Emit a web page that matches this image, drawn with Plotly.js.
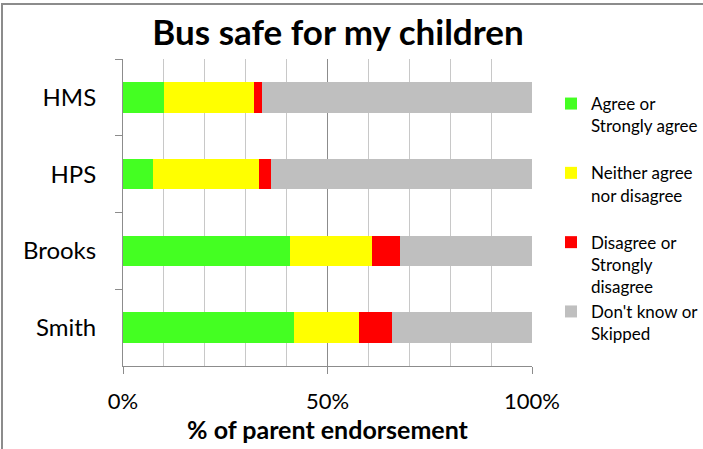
<!DOCTYPE html>
<html>
<head>
<meta charset="utf-8">
<script src="https://cdn.plot.ly/plotly-3.0.1.min.js"></script>
<style>
  html, body { margin: 0; padding: 0; background: #fff; }
  #frame { position: absolute; left: 1px; top: 3px; width: 710px; height: 460px;
           border-top: 2px solid #8c8c8c; border-left: 2px solid #8c8c8c; }
  #chart { position: absolute; left: 0; top: 0; width: 703px; height: 449px; }
</style>
</head>
<body>
<div id="frame"></div>
<div id="chart"></div>
<script>
// Schools (top to bottom in the chart)
const schools = ["HMS", "HPS", "Brooks", "Smith"];
// Share of parents per response (fractions)
const agree    = [0.10, 0.073, 0.408, 0.417];
const neither  = [0.22, 0.260, 0.201, 0.159];
const disagree = [0.02, 0.028, 0.068, 0.082];
const dontKnow = [0.66, 0.639, 0.323, 0.342];
const seriesNames = [
  "Agree or<br>Strongly agree<br> ",
  "Neither agree<br>nor disagree<br> ",
  "Disagree or<br>Strongly<br>disagree",
  "Don't know or<br>Skipped"
];
const seriesColors = ["#44ff22", "#ffff00", "#ff0000", "#bfbfbf"];
const seriesValues = [agree, neither, disagree, dontKnow];

const FONT = "Lato, 'Open Sans', sans-serif";

const traces = seriesValues.map((vals, i) => ({
  type: "bar",
  orientation: "h",
  name: seriesNames[i],
  y: schools,
  x: vals,
  width: 0.4,
  marker: { color: seriesColors[i], line: { width: 0 } },
  hoverinfo: "x+y+name"
}));

const layout = {
  width: 703, height: 449,
  barmode: "stack",
  paper_bgcolor: "rgba(0,0,0,0)",
  plot_bgcolor: "#ffffff",
  margin: { l: 123, r: 171, t: 59, b: 83, autoexpand: false },
  title: {
    text: "<b>Bus safe for my children</b>",
    font: { family: FONT, size: 35, color: "#000" },
    x: 338 / 703, xanchor: "center", xref: "container",
    y: 1 - 33 / 449, yanchor: "middle", yref: "container"
  },
  font: { family: FONT, color: "#000" },
  xaxis: {
    range: [0, 1],
    tickvals: [0, 0.5, 1],
    tickformat: ".0%",
    ticks: "outside", ticklen: 7, tickcolor: "#8c8c8c", tickwidth: 1,
    ticklabelstandoff: 9,
    showgrid: true, gridcolor: "#8c8c8c", gridwidth: 1,
    minor: { dtick: 0.1, showgrid: true, gridcolor: "#c8c8c8", gridwidth: 1, ticks: "" },
    showline: true, linecolor: "#8c8c8c", linewidth: 1,
    zeroline: false,
    tickfont: { family: FONT, size: 22, color: "#000" },
    title: { text: "<b>% of parent endorsement</b>", font: { family: FONT, size: 25, color: "#000" }, standoff: 4 },
    fixedrange: true
  },
  yaxis: {
    type: "category",
    categoryorder: "array",
    categoryarray: schools,
    autorange: "reversed",
    ticks: "outside", ticklen: 7, tickcolor: "#8c8c8c", tickwidth: 1,
    tickson: "boundaries",
    showgrid: false,
    showline: true, linecolor: "#8c8c8c", linewidth: 1,
    tickfont: { family: FONT, size: 24, color: "#000" },
    ticklabelstandoff: 21,
    fixedrange: true
  },
  showlegend: true,
  legend: {
    xref: "container", yref: "container",
    x: 551 / 703, xanchor: "left",
    y: 1 - 86 / 449, yanchor: "top",
    traceorder: "normal",
    valign: "top",
    maxheight: 400,
    font: { family: FONT, size: 17, color: "#000" },
    itemwidth: 30,
    bgcolor: "rgba(0,0,0,0)"
  }
};

Plotly.newPlot("chart", traces, layout, { displayModeBar: false, staticPlot: true });
</script>
</body>
</html>
